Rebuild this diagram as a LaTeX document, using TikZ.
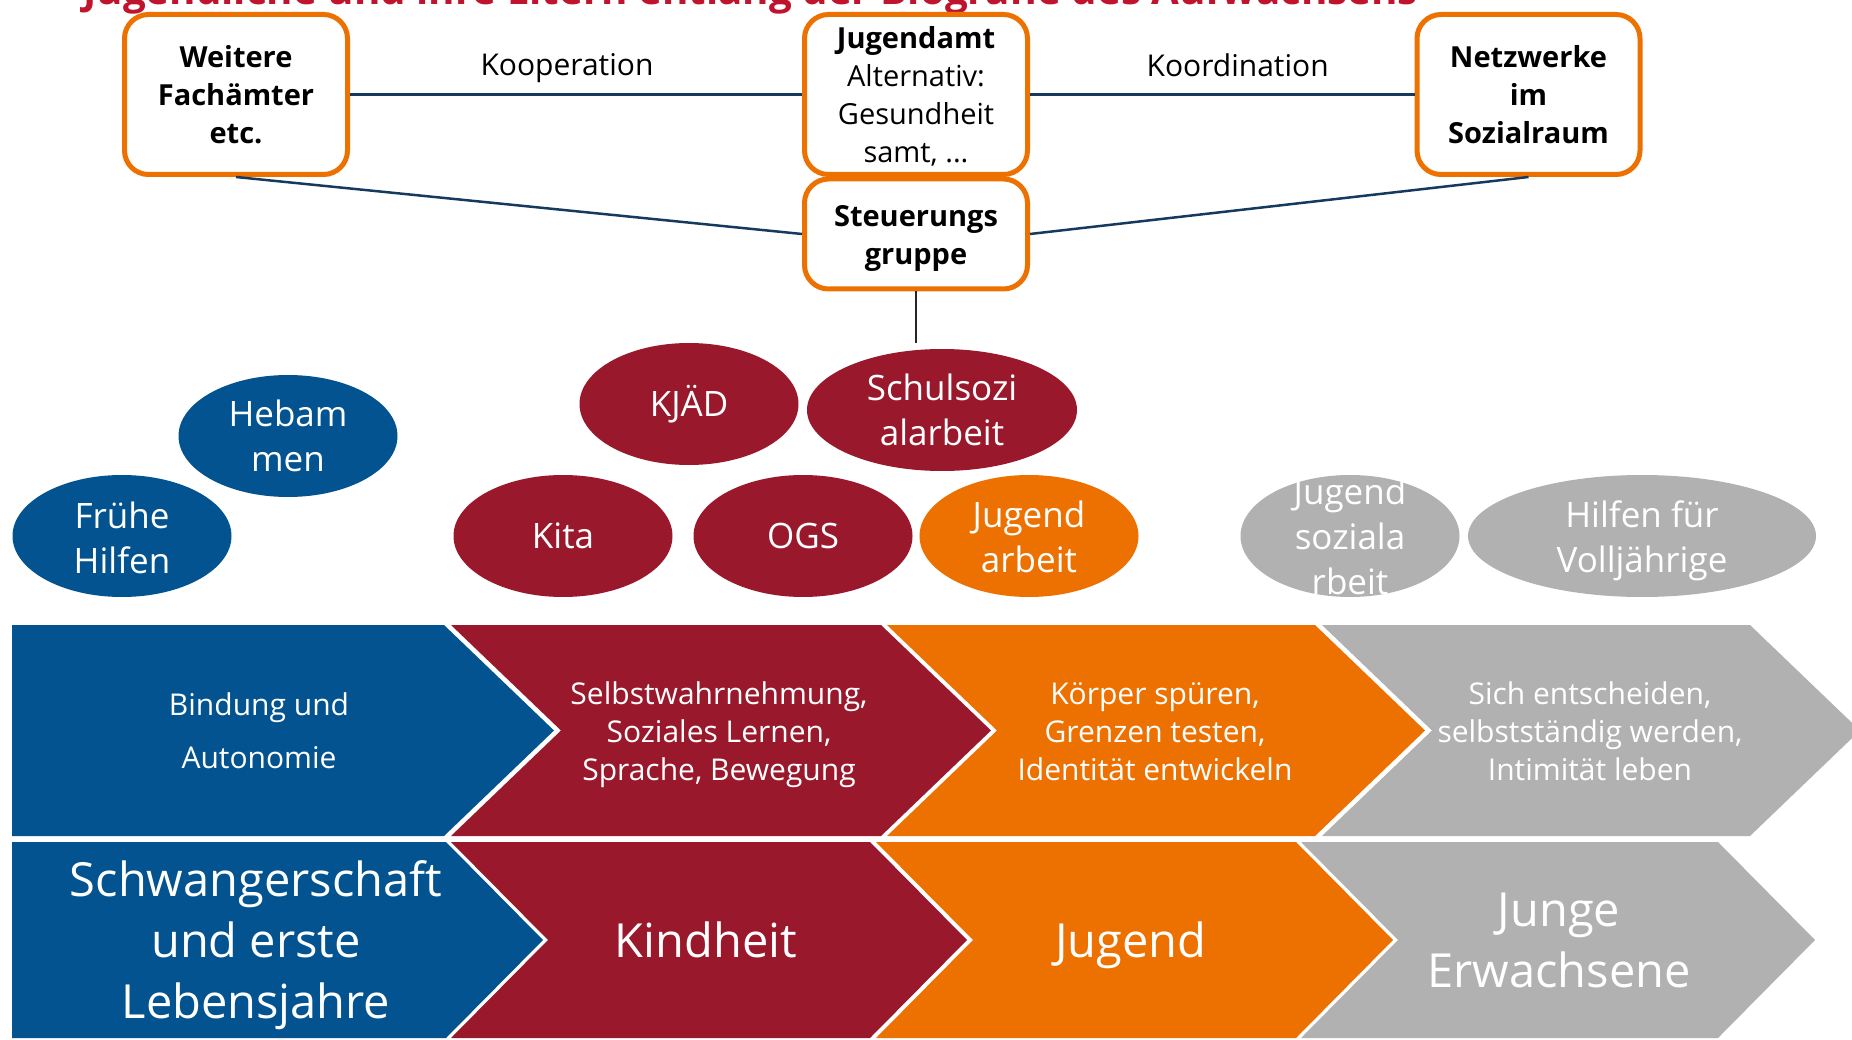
\documentclass[tikz,border=0pt]{standalone}
\usepackage{fontspec}
\setmainfont{Open Sans}
\usetikzlibrary{shapes.geometric}
\definecolor{cblue}{HTML}{02538F}
\definecolor{cred}{HTML}{9A182C}
\definecolor{corange}{HTML}{ED7100}
\definecolor{cgray}{HTML}{B2B1B1}
\definecolor{cnavy}{HTML}{163A5F}
\definecolor{ctitle}{HTML}{C0142E}
\begin{document}
\begin{tikzpicture}[x=1pt,y=-1pt,
  obox/.style={draw=corange, line width=5pt, fill=white, rounded corners=24pt, minimum width=223pt, align=center, inner sep=0pt, font=\fontsize{29}{38}\selectfont\bfseries},
  conn/.style={draw=cnavy, line width=2.5pt},
  lbl/.style={font=\fontsize{30}{36}\selectfont, text=black},
  blob/.style={ellipse, minimum width=219pt, minimum height=122pt, inner sep=0pt},
  etext/.style={text=white, align=center, font=\fontsize{35}{45}\selectfont},
  ctext/.style={text=white, align=center, font=\fontsize{30}{38}\selectfont},
  btext/.style={text=white, align=center, font=\fontsize{47}{61}\selectfont},
]
\useasboundingbox (0,0) rectangle (1852,1040);
\clip (0,0) rectangle (1852,1040);

% title (cut off at top, as in the reference)
\node[anchor=base west, text=ctitle, inner sep=0pt, font=\fontsize{40.3}{46}\selectfont\bfseries] (title) at (83,5) {Jugendliche und ihre Eltern entlang der Biografie des Aufwachsens};

% top boxes
\node[obox, minimum height=160pt] (weitere) at (236,94.5) {Weitere\\Fachämter\\etc.};
\node[obox, minimum height=160pt, text depth=0pt] (jugendamt) at (916,94.5) {Jugendamt\\\mdseries Alternativ:\\\mdseries Gesundheit\\\mdseries samt, ...};
\node[obox, minimum height=160pt] (netzwerke) at (1528.5,94.5) {Netzwerke\\im\\Sozialraum};
\node[obox, minimum height=110pt] (steuerung) at (916,234) {};
\node[font=\fontsize{29}{38}\selectfont\bfseries, align=center, inner sep=0pt] (steuerungT) at ([yshift=-4pt]steuerung.center) {Steuerungs\\gruppe};
\coordinate (stend) at (916,343);

\draw[conn] (weitere.east) -- node[lbl, pos=0.48, yshift=26pt] (koop) {Kooperation} (jugendamt.west);
\draw[conn] (jugendamt.east) -- node[lbl, pos=0.54, yshift=29.5pt] (koord) {Koordination} (netzwerke.west);
\draw[conn] (weitere.south) -- (steuerung.west);
\draw[conn] (netzwerke.south) -- (steuerung.east);
\draw[draw=black!85, line width=1.5pt] (steuerung.south) -- (stend);

% ellipses
\node[blob, fill=cblue] (hebammen) at (288,436) {};
\node[etext] (hebammenT) at (hebammen.center) {Hebam\\men};
\node[blob, fill=cblue] (fruehe) at (122,536) {};
\node[etext] (fruheT) at ([yshift=-2pt]fruehe.center) {Frühe\\Hilfen};
\node[blob, fill=cred] (kjaed) at (689,404) {};
\node[etext] (kjaedT) at (kjaed.center) {KJÄD};
\node[blob, fill=cred, minimum width=270pt] (schulsozi) at (942,410) {};
\node[etext] (schulsoziT) at (schulsozi.center) {Schulsozi\\alarbeit};
\node[blob, fill=cred] (kita) at (563,536) {};
\node[etext] (kitaT) at (kita.center) {Kita};
\node[blob, fill=cred] (ogs) at (803,536) {};
\node[etext] (ogsT) at (ogs.center) {OGS};
\node[blob, fill=corange] (jarbeit) at (1029,536) {};
\node[etext] (jarbeitT) at ([yshift=-1pt]jarbeit.center) {Jugend\\arbeit};
\node[blob, fill=cgray] (jsozial) at (1350,536) {};
\node[etext] (jsozialT) at (jsozial.center) {Jugend\\soziala\\rbeit};
\node[blob, fill=cgray, minimum width=348pt] (hilfen) at (1642,536) {};
\node[etext] (hilfenT) at ([yshift=-5pt]hilfen.center) {Hilfen für\\Volljährige};

% chevron row 1
\fill[cblue] (12,625) -- (444,625) -- (554,730.5) -- (444,836) -- (12,836) -- cycle;
\fill[cred] (451,625) -- (881,625) -- (991,730.5) -- (881,836) -- (451,836) -- (561,730.5) -- cycle;
\fill[corange] (887,625) -- (1315,625) -- (1425,730.5) -- (1315,836) -- (887,836) -- (997,730.5) -- cycle;
\fill[cgray] (1322,625) -- (1750,625) -- (1860,730.5) -- (1750,836) -- (1322,836) -- (1432,730.5) -- cycle;

\node[ctext, font=\fontsize{30}{53}\selectfont] (t1a) at (259,730.5) {Bindung und\\Autonomie};
\node[ctext] (t1b) at (719,735) {Selbstwahrnehmung,\\Soziales Lernen,\\Sprache, Bewegung};
\node[ctext] (t1c) at (1155,731.5) {Körper spüren,\\Grenzen testen,\\Identität entwickeln};
\node[ctext] (t1d) at (1590,731.5) {Sich entscheiden,\\selbstständig werden,\\Intimität leben};

% chevron row 2
\fill[cblue] (12,842) -- (446,842) -- (543,940) -- (446,1038) -- (12,1038) -- cycle;
\fill[cred] (451,842) -- (870,842) -- (967,940) -- (870,1038) -- (451,1038) -- (548,940) -- cycle;
\fill[corange] (876,842) -- (1296,842) -- (1393,940) -- (1296,1038) -- (876,1038) -- (973,940) -- cycle;
\fill[cgray] (1301,842) -- (1718,842) -- (1815,940) -- (1718,1038) -- (1301,1038) -- (1398,940) -- cycle;

\node[btext] (t2a) at (256,945) {Schwangerschaft\\und erste\\Lebensjahre};
\node[btext] (t2b) at (706,940) {Kindheit};
\node[btext] (t2c) at (1131,945) {Jugend};
\node[btext] (t2d) at (1559,940) {Junge\\Erwachsene};
\end{tikzpicture}
\end{document}
